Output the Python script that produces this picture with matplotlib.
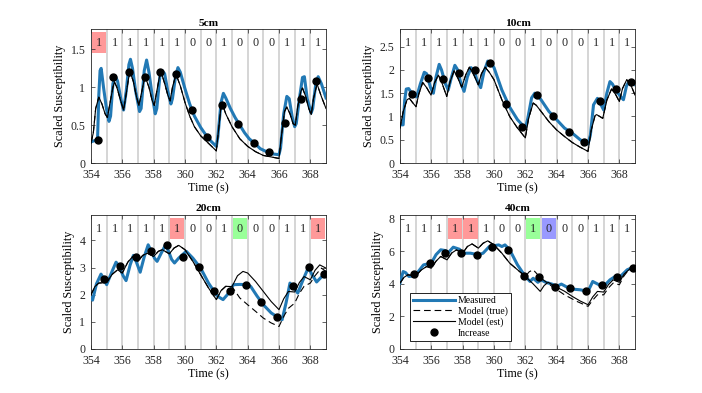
import matplotlib.pyplot as plt
from matplotlib.patches import Rectangle
from matplotlib.ticker import FuncFormatter

plt.rcParams['font.family'] = ['Liberation Serif', 'DejaVu Serif']
plt.rcParams['font.size'] = 8.5

# ---- data ----
bits = [1, 1, 1, 1, 1, 1, 0, 0, 1, 0, 0, 0, 1, 1, 1]
t_first = 354

meas_5cm = [(354.0, 0.28), (354.3, 0.30), (354.42, 0.32), (354.5, 0.90), (354.58, 1.22), (354.65, 1.25),
            (354.8, 1.00), (355.0, 0.70), (355.15, 0.55), (355.25, 0.62), (355.4, 1.05), (355.55, 1.15),
            (355.7, 1.08), (355.9, 0.85), (356.08, 0.70), (356.25, 0.95), (356.42, 1.30), (356.52, 1.37),
            (356.65, 1.25), (356.85, 0.95), (357.1, 0.68), (357.2, 0.72), (357.4, 1.22), (357.55, 1.36),
            (357.7, 1.20), (357.9, 0.90), (358.1, 0.65), (358.2, 0.72), (358.4, 1.15), (358.55, 1.22),
            (358.7, 1.18), (358.9, 0.95), (359.1, 0.78), (359.2, 0.85), (359.4, 1.15), (359.55, 1.26),
            (359.7, 1.20), (360.0, 0.98), (360.3, 0.78), (360.6, 0.62), (361.0, 0.47), (361.4, 0.35),
            (361.7, 0.28), (362.0, 0.22), (362.1, 0.35), (362.3, 0.80), (362.45, 0.92), (362.6, 0.86),
            (362.9, 0.72), (363.2, 0.60), (363.5, 0.50), (363.8, 0.40), (364.1, 0.32), (364.5, 0.25),
            (364.8, 0.19), (365.2, 0.15), (365.6, 0.12), (366.0, 0.11), (366.1, 0.20), (366.3, 0.65),
            (366.5, 0.88), (366.65, 0.85), (366.85, 0.60), (367.0, 0.48), (367.1, 0.52), (367.3, 0.85),
            (367.5, 1.13), (367.62, 1.14), (367.8, 0.85), (368.05, 0.66), (368.15, 0.72), (368.35, 1.05),
            (368.5, 1.14), (368.7, 1.05), (369.0, 0.86)]
est_5cm = [(354.0, 0.26), (354.15, 0.40), (354.3, 0.72), (354.5, 0.87), (354.7, 0.78), (354.9, 0.65),
           (355.05, 0.60), (355.2, 0.78), (355.4, 1.00), (355.5, 1.07), (355.65, 1.00), (355.9, 0.82),
           (356.08, 0.70), (356.2, 0.85), (356.4, 1.12), (356.5, 1.20), (356.7, 1.08), (356.9, 0.88),
           (357.06, 0.76), (357.2, 0.90), (357.4, 1.10), (357.48, 1.13), (357.7, 1.00), (357.9, 0.83),
           (358.04, 0.76), (358.2, 0.95), (358.4, 1.17), (358.48, 1.20), (358.7, 1.05), (358.9, 0.90),
           (359.05, 0.82), (359.2, 1.00), (359.4, 1.15), (359.45, 1.16), (359.7, 1.02), (360.0, 0.80),
           (360.3, 0.62), (360.6, 0.48), (361.0, 0.36), (361.5, 0.26), (362.0, 0.16), (362.15, 0.45),
           (362.3, 0.75), (362.38, 0.78), (362.6, 0.65), (363.0, 0.48), (363.5, 0.32), (364.0, 0.22),
           (364.5, 0.15), (365.0, 0.10), (365.5, 0.08), (366.0, 0.06), (366.15, 0.35), (366.35, 0.68),
           (366.5, 0.74), (366.7, 0.65), (366.9, 0.52), (367.04, 0.50), (367.2, 0.75), (367.4, 0.95),
           (367.5, 0.99), (367.7, 0.88), (367.9, 0.72), (368.06, 0.64), (368.2, 0.85), (368.4, 1.02),
           (368.45, 1.03), (368.7, 0.88), (369.0, 0.72)]
true_5cm = est_5cm
inc_5cm_t = [354.42, 355.40, 356.42, 357.42, 358.40, 359.40, 360.42, 361.42, 362.39, 363.41, 364.41, 365.39, 366.41, 367.38, 368.38]
inc_5cm_y = [0.31, 1.14, 1.20, 1.13, 1.20, 1.18, 0.70, 0.35, 0.77, 0.51, 0.26, 0.15, 0.53, 0.84, 1.08]

meas_10cm = [(354.0, 0.82), (354.2, 0.82), (354.3, 1.35), (354.4, 1.59), (354.55, 1.60), (354.75, 1.50),
             (355.06, 1.42), (355.3, 1.70), (355.55, 1.95), (355.7, 1.92), (355.95, 1.62), (356.13, 1.50),
             (356.3, 1.85), (356.5, 2.12), (356.65, 2.00), (356.9, 1.70), (357.08, 1.57), (357.25, 1.80),
             (357.5, 2.10), (357.65, 2.02), (357.9, 1.70), (358.09, 1.54), (358.3, 1.85), (358.53, 2.05),
             (358.7, 2.00), (358.95, 1.75), (359.15, 1.62), (359.35, 1.95), (359.6, 2.19), (359.8, 2.15),
             (360.0, 2.05), (360.5, 1.57), (361.0, 1.20), (361.5, 0.93), (362.0, 0.75), (362.15, 0.95),
             (362.4, 1.40), (362.6, 1.50), (362.8, 1.44), (363.0, 1.36), (363.5, 1.11), (364.0, 0.93),
             (364.5, 0.75), (365.0, 0.64), (365.5, 0.50), (366.0, 0.41), (366.15, 0.60), (366.35, 1.25),
             (366.6, 1.39), (366.75, 1.30), (367.0, 1.14), (367.2, 1.50), (367.4, 1.75), (367.55, 1.70),
             (367.8, 1.55), (368.1, 1.42), (368.26, 1.36), (368.45, 1.65), (368.6, 1.75), (368.8, 1.72),
             (369.0, 1.68)]
est_10cm = [(354.0, 0.75), (354.2, 1.10), (354.45, 1.36), (354.6, 1.39), (354.8, 1.30), (355.02, 1.21),
            (355.2, 1.48), (355.45, 1.73), (355.7, 1.62), (355.98, 1.46), (356.2, 1.72), (356.45, 1.89),
            (356.7, 1.70), (356.98, 1.43), (357.2, 1.75), (357.45, 1.98), (357.7, 1.82), (357.94, 1.63),
            (358.2, 1.90), (358.43, 2.06), (358.7, 1.90), (359.0, 1.68), (359.2, 1.92), (359.43, 2.06),
            (359.7, 1.95), (360.0, 1.79), (360.5, 1.36), (361.0, 1.00), (361.5, 0.75), (362.0, 0.54),
            (362.2, 0.95), (362.5, 1.29), (362.7, 1.24), (363.0, 1.11), (363.5, 0.89), (364.0, 0.71),
            (364.5, 0.57), (365.0, 0.44), (365.5, 0.34), (366.0, 0.25), (366.2, 0.70), (366.45, 1.02),
            (366.55, 1.04), (366.75, 1.00), (366.94, 0.96), (367.2, 1.35), (367.5, 1.59), (367.75, 1.48),
            (368.0, 1.32), (368.2, 1.60), (368.47, 1.79), (368.7, 1.70), (369.0, 1.46)]
true_10cm = est_10cm
inc_10cm_t = [354.77, 355.77, 356.77, 357.74, 358.77, 359.77, 360.77, 361.77, 362.77, 363.77, 364.77, 365.77, 366.77, 367.77, 368.77]
inc_10cm_y = [1.49, 1.83, 1.81, 1.93, 1.99, 2.14, 1.27, 0.78, 1.47, 1.01, 0.67, 0.46, 1.34, 1.59, 1.75]

meas_20cm = [(354.0, 1.88), (354.1, 1.80), (354.35, 2.40), (354.64, 2.76), (354.8, 2.60), (355.0, 2.37),
             (355.3, 2.80), (355.6, 3.20), (355.8, 3.05), (356.05, 2.70), (356.24, 2.52), (356.5, 3.10),
             (356.71, 3.45), (356.9, 3.20), (357.14, 2.83), (357.4, 3.40), (357.65, 3.84), (357.85, 3.60),
             (358.05, 3.35), (358.22, 3.23), (358.5, 3.55), (358.76, 3.84), (358.95, 3.60), (359.15, 3.30),
             (359.33, 3.17), (359.6, 3.35), (360.08, 3.60), (360.5, 3.35), (361.0, 2.98), (361.5, 2.43),
             (362.0, 2.00), (362.2, 1.90), (362.43, 1.82), (362.7, 2.00), (363.1, 2.37), (363.5, 2.38),
             (364.0, 2.37), (364.2, 2.30), (364.6, 1.95), (365.0, 1.63), (365.5, 1.33), (366.0, 1.14),
             (366.2, 1.08), (366.45, 1.70), (366.7, 2.43), (366.9, 2.30), (367.2, 2.06), (367.5, 2.50),
             (367.87, 3.00), (368.1, 2.75), (368.4, 2.47), (368.7, 2.65), (369.0, 2.74)]
est_20cm = [(354.0, 2.00), (354.25, 2.30), (354.5, 2.43), (355.0, 2.45), (355.35, 2.75), (355.7, 2.92),
            (356.0, 2.80), (356.35, 3.20), (356.65, 3.40), (357.0, 3.23), (357.3, 3.45), (357.6, 3.53),
            (358.0, 3.41), (358.3, 3.60), (358.55, 3.66), (359.0, 3.51), (359.3, 3.72), (359.6, 3.82),
            (360.0, 3.66), (360.5, 3.23), (361.0, 2.74), (361.5, 2.25), (362.0, 1.82), (362.3, 2.15),
            (362.6, 2.31), (363.0, 2.30), (363.35, 2.70), (363.7, 2.86), (364.0, 2.80), (364.5, 2.49),
            (365.0, 2.12), (365.5, 1.75), (366.0, 1.45), (366.3, 1.85), (366.6, 2.12), (367.0, 2.10),
            (367.3, 2.45), (367.6, 2.67), (368.0, 2.55), (368.3, 2.90), (368.6, 3.10), (369.0, 2.98)]
true_20cm = [p for p in est_20cm if p[0] <= 363.0] + [
    (363.5, 1.88), (364.0, 1.63), (364.5, 1.39), (365.0, 1.14), (365.5, 0.96), (366.0, 0.83),
    (366.3, 1.20), (366.6, 1.50), (367.0, 1.69), (367.3, 2.05), (367.6, 2.31), (368.0, 2.43),
    (368.3, 2.70), (368.7, 2.98), (369.0, 2.86)]
inc_20cm_t = [354.85, 355.86, 356.86, 357.86, 358.86, 359.87, 360.87, 361.87, 362.88, 363.88, 364.88, 365.88, 366.89, 367.89, 368.89]
inc_20cm_y = [2.58, 3.07, 3.40, 3.63, 3.85, 3.40, 3.03, 2.12, 2.12, 2.37, 1.75, 1.19, 2.34, 3.01, 2.76]

meas_40cm = [(354.0, 4.05), (354.2, 4.76), (354.35, 4.70), (354.57, 4.46), (355.0, 4.50), (355.2, 4.80),
             (355.5, 5.17), (356.0, 5.28), (356.3, 5.80), (356.6, 6.10), (356.9, 6.05), (357.05, 5.89),
             (357.4, 6.26), (357.8, 6.13), (358.0, 5.89), (358.5, 5.89), (359.0, 5.79), (359.3, 5.89),
             (359.7, 6.30), (360.3, 6.40), (360.5, 6.30), (360.7, 6.40), (361.0, 6.10), (361.5, 5.17),
             (362.0, 4.46), (362.3, 4.15), (362.5, 4.35), (362.8, 4.10), (363.0, 4.25), (363.3, 4.10),
             (363.7, 3.99), (364.0, 3.85), (364.3, 3.99), (364.7, 3.78), (365.0, 3.68), (365.5, 3.64),
             (366.0, 3.54), (366.3, 4.15), (366.7, 3.95), (367.0, 3.85), (367.4, 4.25), (367.8, 4.50),
             (368.0, 4.40), (368.5, 4.87), (369.0, 5.07)]
est_40cm = [(354.0, 4.05), (354.25, 4.40), (354.5, 4.56), (355.0, 4.50), (355.35, 4.85), (355.7, 5.07),
            (356.0, 4.97), (356.3, 5.40), (356.6, 5.69), (357.0, 5.48), (357.3, 5.90), (357.6, 6.09),
            (358.0, 5.89), (358.3, 6.30), (358.6, 6.46), (359.0, 6.20), (359.3, 6.50), (359.6, 6.65),
            (360.0, 6.40), (360.5, 5.89), (361.0, 5.28), (361.5, 4.87), (362.0, 4.46), (362.5, 4.00),
            (362.95, 3.54), (363.2, 3.90), (363.45, 4.10), (364.0, 3.80), (364.5, 3.55), (365.0, 3.23),
            (365.5, 2.95), (366.0, 2.72), (366.3, 3.20), (366.6, 3.54), (367.0, 3.50), (367.3, 3.95),
            (367.6, 4.25), (368.0, 4.10), (368.3, 4.60), (368.6, 4.87), (369.0, 5.07)]
true_40cm = [p for p in est_40cm if p[0] <= 362.0] + [
    (362.25, 4.75), (362.5, 4.87), (363.0, 4.35), (363.7, 3.85), (364.5, 3.33), (365.3, 2.92),
    (366.0, 2.62), (366.3, 3.00), (366.6, 3.33), (367.0, 3.33), (367.3, 3.75), (367.6, 4.05),
    (368.0, 3.95), (368.3, 4.50), (368.6, 4.87), (369.0, 5.07)]
inc_40cm_t = [354.89, 355.91, 356.89, 357.90, 358.90, 359.90, 360.90, 361.89, 362.89, 363.89, 364.88, 365.88, 366.88, 367.88, 368.87]
inc_40cm_y = [4.60, 5.26, 5.89, 5.93, 5.77, 6.24, 6.09, 4.46, 4.42, 3.80, 3.74, 3.56, 3.91, 4.44, 5.01]

titles = ['5cm', '10cm', '20cm', '40cm']
ylims = [1.77, 2.88, 4.94, 8.24]
ysteps = [0.5, 0.5, 1, 2]
# highlighted bit boxes: (interval index, colour)
marks = [[(0, '#ff9999')],
         [],
         [(5, '#ff9999'), (9, '#99ff99'), (14, '#ff9999')],
         [(3, '#ff9999'), (4, '#ff9999'), (8, '#99ff99'), (9, '#9999ff')]]

panels = [(meas_5cm, true_5cm, est_5cm, inc_5cm_t, inc_5cm_y),
          (meas_10cm, true_10cm, est_10cm, inc_10cm_t, inc_10cm_y),
          (meas_20cm, true_20cm, est_20cm, inc_20cm_t, inc_20cm_y),
          (meas_40cm, true_40cm, est_40cm, inc_40cm_t, inc_40cm_y)]

fig = plt.figure(figsize=(7.02, 3.93), dpi=100)
positions = [[0.1296, 0.5852, 0.3348, 0.341], [0.5698, 0.5852, 0.3348, 0.341],
             [0.1296, 0.112, 0.3348, 0.341], [0.5698, 0.112, 0.3348, 0.341]]

for k in range(4):
    ax = fig.add_axes(positions[k])
    meas, true, est, inc_t, inc_y = panels[k]
    trans = ax.get_xaxis_transform()

    for i in range(1, len(bits)):
        ax.axvline(t_first + i, color='#d2d2d2', lw=1.3, zorder=1)
    for idx, col in marks[k]:
        ax.add_patch(Rectangle((t_first + idx + 0.05, 0.82), 0.9, 0.16, transform=trans,
                               facecolor=col, edgecolor='none', zorder=1.5, clip_on=True))
    for i, b in enumerate(bits):
        ax.text(t_first + i + 0.5, 0.895, str(b), transform=trans, ha='center', va='center',
                fontsize=8.7, color='#262626', zorder=2)

    ax.plot([p[0] for p in meas], [p[1] for p in meas], color='#2279b5', lw=2.2,
            label='Measured', zorder=3)
    ax.plot([p[0] for p in true], [p[1] for p in true], color='black', lw=0.8,
            dashes=(6, 3.5), label='Model (true)', zorder=4)
    ax.plot([p[0] for p in est], [p[1] for p in est], color='black', lw=0.8,
            label='Model (est)', zorder=4)
    ax.plot(inc_t, inc_y, 'o', color='black', ms=5, label='Increase', zorder=5)

    ax.set_xlim(354, 369)
    ax.set_ylim(0, ylims[k])
    ax.set_xticks(range(354, 369, 2))
    yt = []
    v = 0.0
    while v <= ylims[k]:
        yt.append(v)
        v += ysteps[k]
    ax.set_yticks(yt)
    ax.yaxis.set_major_formatter(FuncFormatter(lambda x, pos: '%g' % x))
    ax.tick_params(direction='in', top=True, right=True, length=3, width=0.5,
                   labelsize=8.6, colors='#262626', pad=4)
    for s in ax.spines.values():
        s.set_linewidth(0.6)
        s.set_color('#262626')
    ax.set_title(titles[k], fontsize=8.2, fontweight='bold', pad=2.5)
    ax.set_xlabel('Time (s)', fontsize=8.7, labelpad=1)
    ax.set_ylabel('Scaled Susceptibility', fontsize=8.7, labelpad=3)

    if k == 3:
        leg = ax.legend(loc='lower left', bbox_to_anchor=(0.042, 0.06), borderaxespad=0,
                        fontsize=7, handlelength=4.3, labelspacing=0.15, handletextpad=0.3,
                        borderpad=0.35, fancybox=False, framealpha=1, edgecolor='black')
        leg.get_frame().set_linewidth(0.6)
        leg.set_zorder(10)

fig.savefig('out.png', dpi=100)
